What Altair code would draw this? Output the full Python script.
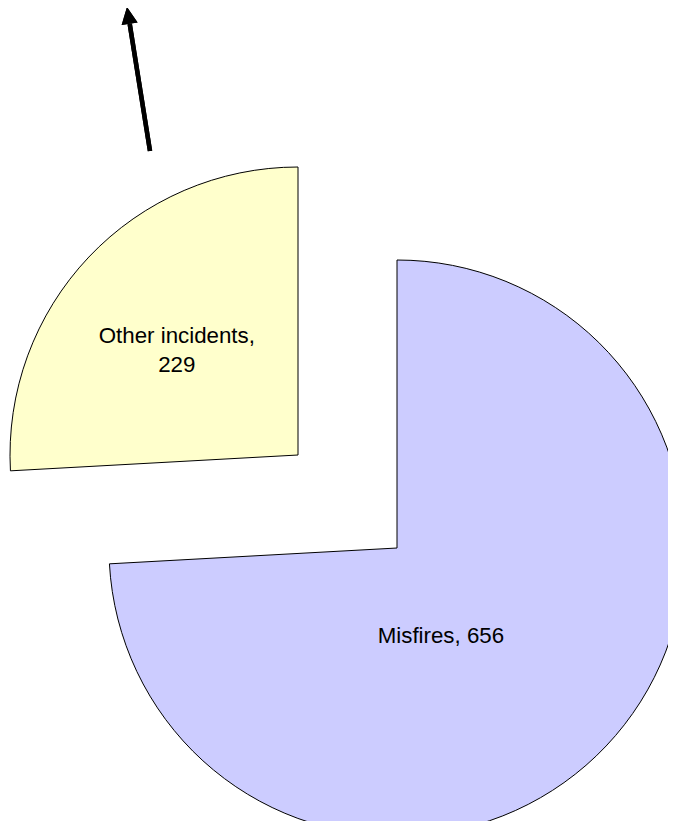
import altair as alt
import pandas as pd

categories = ["Misfires", "Other incidents"]
values = [656, 229]
label_text = [["Misfires, 656"], ["Other incidents,", "229"]]
colors = ["#CCCCFF", "#FFFFCC"]

total = sum(values)
ends = pd.Series(values).cumsum().tolist()
starts = [e - v for e, v in zip(ends, values)]
df = pd.DataFrame({
    "category": categories,
    "value": values,
    "start": starts,
    "end": ends,
    "mid": [(s + e) / 2 for s, e in zip(starts, ends)],
    "label": label_text,
})

W, H = 660, 813
R = 288
theta_scale = alt.Scale(domain=[0, total], range=[0, 6.283185307179586])
color_scale = alt.Scale(domain=categories, range=colors)

# exploded slice centres (chart coords) and label placement tweaks
centres = {"Misfires": (389, 540), "Other incidents": (290, 447)}
label_pos = {"Misfires": (99, -28, 20), "Other incidents": (160, -5, -9)}

base = alt.Chart(df)
layers = []
for cat in categories:
    cx, cy = centres[cat]
    lr, ldx, ldy = label_pos[cat]
    sub = base.transform_filter(alt.datum.category == cat)
    arc = sub.mark_arc(radius=R, stroke="black", strokeWidth=1).encode(
        theta=alt.Theta("start:Q", scale=theta_scale),
        theta2="end:Q",
        color=alt.Color("category:N", scale=color_scale, legend=None),
        x=alt.value(cx),
        y=alt.value(cy),
    )
    txt = sub.mark_text(
        font="Liberation Sans", fontSize=22.3, color="black",
        align="center", baseline="middle", lineHeight=28.5, dx=ldx, dy=ldy,
    ).encode(
        theta=alt.Theta("mid:Q", scale=theta_scale),
        radius=alt.value(lr),
        text="label",
        x=alt.value(cx),
        y=alt.value(cy),
    )
    layers += [arc, txt]

# arrow annotation
shaft = base.mark_rule(color="black", strokeWidth=4.5).encode(
    x=alt.value(142), y=alt.value(143), x2=alt.value(121.7), y2=alt.value(15.8)
)
head = base.mark_point(
    shape="M0,-1L0.95,1L-0.95,1Z", filled=True, color="black", size=289,
    angle=351, opacity=1,
).encode(x=alt.value(120.3), y=alt.value(7.4))

chart = alt.layer(*layers, shaft, head).properties(
    width=W, height=H, padding=0, background="white",
    autosize=alt.AutoSizeParams(type="none"),
).configure_view(stroke=None)

chart.save("out.html", embed_options={"renderer": "svg", "actions": False})
